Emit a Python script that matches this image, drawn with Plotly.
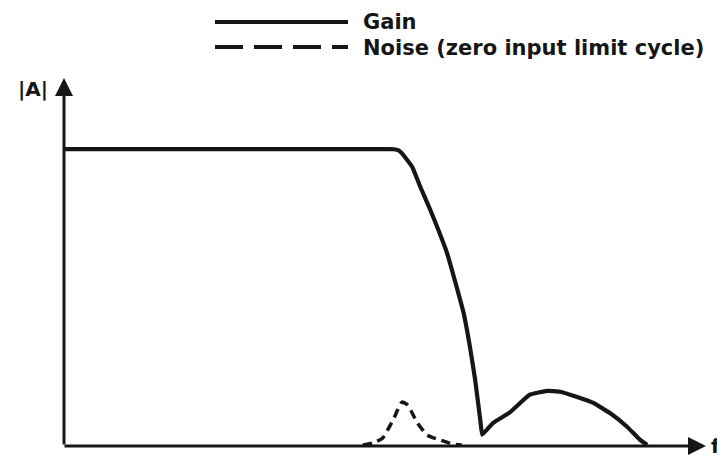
import plotly.graph_objects as go

# ---- data (arbitrary units) ----
gain_f = [0, 51.0, 52.2, 53.0, 54.4, 55.6, 57.2, 58.5, 59.8, 61.3, 62.4, 63.4, 64.2, 65.0, 65.3,
          67.0, 69.6, 72.7, 75.4, 77.4, 80.1, 82.6, 85.2, 87.9, 89.9, 91.0]
gain_a = [100, 100, 99.6, 98, 93.9, 87.5, 79.5, 72.5, 65, 53.5, 44.6, 33, 22, 8.4, 3.5,
          7.5, 11, 17, 18.3, 18, 16.2, 14.2, 10.8, 6.1, 1.7, 0]

noise_f = [46.7, 48.3, 49.8, 51.4, 52.8, 53.7, 55.1, 56.7, 58.7, 60.7, 62.1]
noise_a = [0, 0.7, 2.4, 8.4, 14.5, 13.5, 7.8, 3.4, 1.7, 0.3, 0]

legend_labels = ["Gain", "Noise (zero input limit cycle)"]
axis_labels = ["|A|", "f"]

# ---- layout geometry (screen pixels; page body has an 8px margin) ----
W, H = 725, 458
OFF = 8
X0, X1 = 63, 705      # plot area left/right on screen
Y0, Y1 = 78, 445      # plot area top/bottom on screen
PW, PH = X1 - X0, Y1 - Y0
INK = "#161616"
FONT = "DejaVu Sans"


def px(x):
    return (x - X0) / PW


def py(y):
    return (Y1 - y) / PH


fig = go.Figure()
fig.add_trace(go.Scatter(x=gain_f, y=gain_a, mode="lines", name=legend_labels[0],
                         line=dict(color=INK, width=4.2, shape="spline", smoothing=0.3),
                         cliponaxis=False, showlegend=False))
fig.add_trace(go.Scatter(x=noise_f, y=noise_a, mode="lines", name=legend_labels[1],
                         line=dict(color=INK, width=3.5, dash="9px,6px", shape="spline", smoothing=0.5),
                         cliponaxis=False, showlegend=False))

shapes = [
    dict(type="line", xref="paper", yref="paper", x0=px(215), x1=px(348), y0=py(22), y1=py(22),
         line=dict(color=INK, width=4)),
    dict(type="line", xref="paper", yref="paper", x0=px(215), x1=px(348), y0=py(47), y1=py(47),
         line=dict(color=INK, width=4, dash="28px,11px")),
]

annotations = [
    # axes with arrowheads
    dict(xref="paper", yref="paper", x=px(706), y=py(446), text="", showarrow=True,
         axref="pixel", ayref="pixel", ax=-(706 - X0), ay=0,
         arrowhead=2, arrowsize=1.2, arrowwidth=3, arrowcolor=INK),
    dict(xref="paper", yref="paper", x=px(64), y=py(78), text="", showarrow=True,
         axref="pixel", ayref="pixel", ax=0, ay=(446 - 78),
         arrowhead=2, arrowsize=1.2, arrowwidth=3, arrowcolor=INK),
    dict(xref="paper", yref="paper", x=px(33), y=py(89), text="<b>" + axis_labels[0] + "</b>",
         showarrow=False, font=dict(family=FONT, size=20, color=INK),
         xanchor="center", yanchor="middle"),
    dict(xref="paper", yref="paper", x=px(709), y=py(446), text="<b>" + axis_labels[1] + "</b>",
         showarrow=False, font=dict(family=FONT, size=20, color=INK),
         xanchor="left", yanchor="middle"),
    dict(xref="paper", yref="paper", x=px(361), y=py(22), text="<b>" + legend_labels[0] + "</b>",
         showarrow=False, font=dict(family=FONT, size=21, color=INK),
         xanchor="left", yanchor="middle"),
    dict(xref="paper", yref="paper", x=px(361), y=py(48), text="<b>" + legend_labels[1] + "</b>",
         showarrow=False, font=dict(family=FONT, size=21, color=INK),
         xanchor="left", yanchor="middle"),
]

fig.update_layout(
    width=W, height=H,
    margin=dict(l=X0 - OFF, r=W - (X1 - OFF), t=Y0 - OFF, b=H - (Y1 - OFF)),
    paper_bgcolor="white", plot_bgcolor="white",
    xaxis=dict(range=[0, 100], visible=False, fixedrange=True),
    yaxis=dict(range=[0, 124], visible=False, fixedrange=True),
    shapes=shapes, annotations=annotations,
    showlegend=False,
)

fig.write_html("out.html")
